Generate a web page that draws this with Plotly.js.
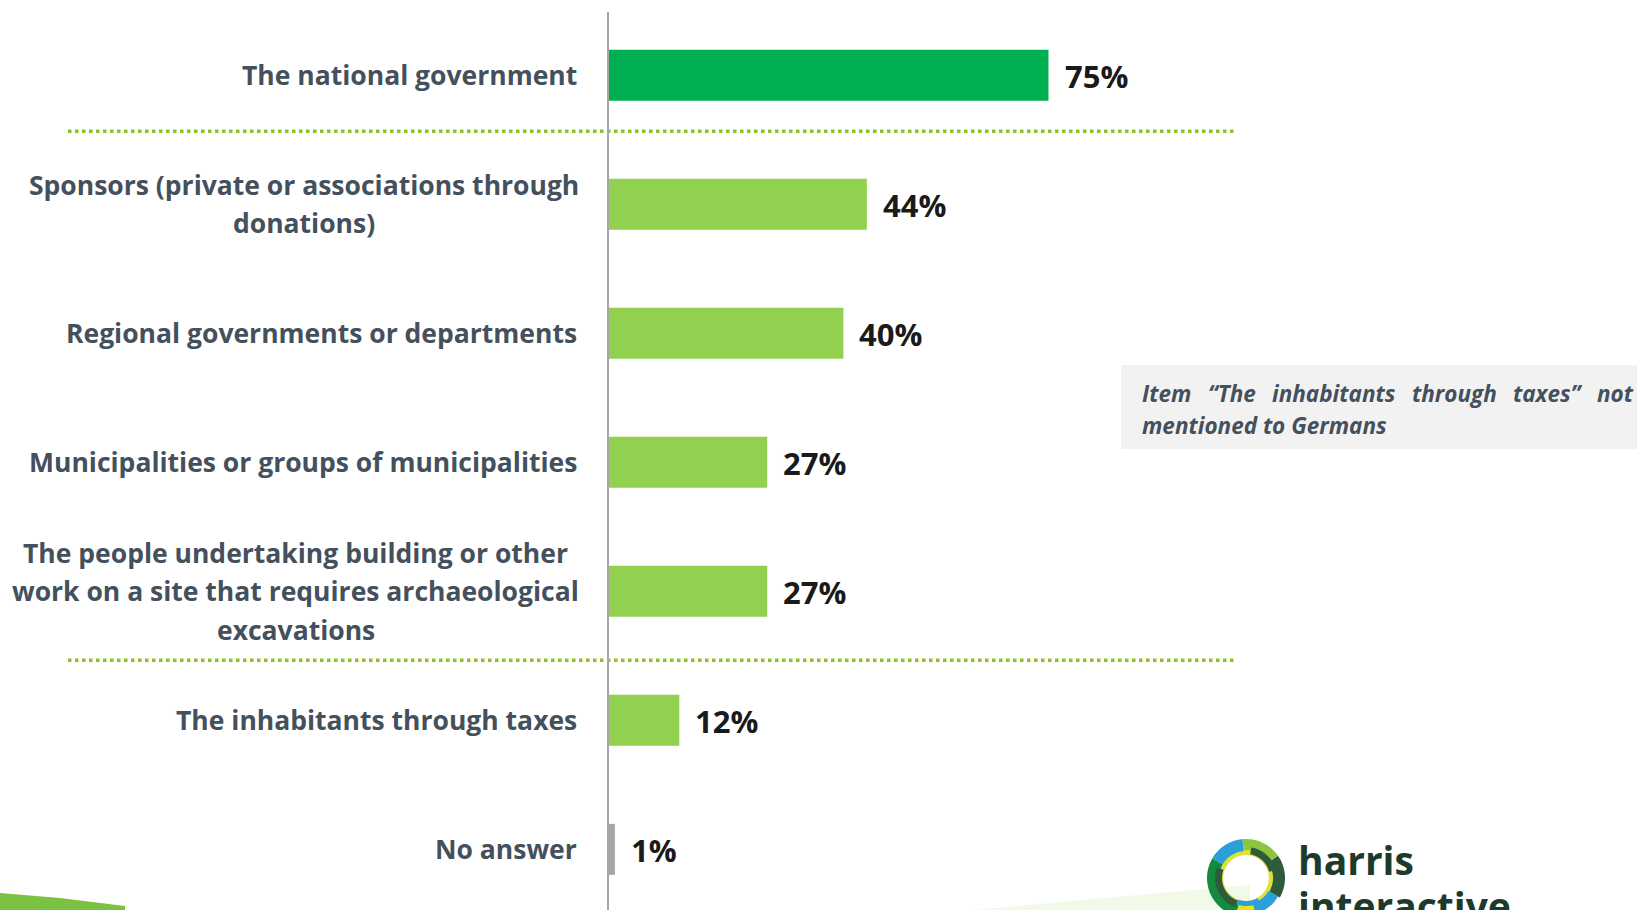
<!DOCTYPE html>
<html>
<head>
<meta charset="utf-8">
<script src="https://cdn.plot.ly/plotly-3.0.1.min.js"></script>
<style>
  html, body { margin: 0; padding: 0; background: #ffffff; }
  #chart { width: 1637px; height: 910px; }
</style>
</head>
<body>
<div id="chart"></div>
<script>
// ---------------- data ----------------
const categories = [
  "The national government",
  "Sponsors (private or associations through<br>donations)",
  "Regional governments or departments",
  "Municipalities or groups of municipalities",
  "The people undertaking building or other<br>work on a site that requires archaeological<br>excavations",
  "The inhabitants through taxes",
  "No answer"
];
const values = [75, 44, 40, 27, 27, 12, 1];
const valueLabels = ["75%", "44%", "40%", "27%", "27%", "12%", "1%"];
const separatorsAfter = [0, 4];   // dotted separator lines after these items
const noteLine1Words = ["Item", "\u201CThe", "inhabitants", "through", "taxes\u201D", "not"];
const noteLine2 = "mentioned to Germans";
const logoWords = ["harris", "interactive"];

// ---------------- layout helpers ----------------
const W = 1637, H = 910;
const ML = 609, MR = 442, MT = 12, MB = 0;
const PW = W - ML - MR, PH = H - MT - MB;
const px2x = p => (p - ML) / PW;
const py2y = p => (H - MB - p) / PH;

const LABEL_FONT = { family: "Open Sans", size: 26.5, color: "#44505c", weight: 700 };
const VALUE_FONT = { family: "Open Sans", size: 31, color: "#1a1a1a", weight: 700 };
const NOTE_FONT = { family: "Open Sans", size: 22.5, color: "#44505c", weight: 700, style: "italic" };

const cvs = document.createElement("canvas").getContext("2d");
function measure(text, f) {
  cvs.font = (f.style || "normal") + " " + (f.weight || 400) + " " + f.size + "px '" + f.family + "'";
  return cvs.measureText(text).width;
}

const barColors = values.map((v, i) => i === 0 ? "#00b050" : (i === values.length - 1 ? "#a6a6a6" : "#92d050"));

const trace = {
  type: "bar",
  orientation: "h",
  x: values,
  y: categories,
  marker: { color: barColors, line: { width: 0 } },
  hoverinfo: "skip",
  showlegend: false
};

const annotations = [];
const LABEL_RIGHT = 579;
const LINE_GAP = 38.5;
categories.forEach((cat, i) => {
  const lines = cat.split("<br>");
  if (lines.length === 1) {
    annotations.push({ xref: "paper", yref: "y", x: px2x(LABEL_RIGHT), y: cat, text: cat,
      xanchor: "right", yanchor: "middle", showarrow: false, font: LABEL_FONT });
  } else {
    const w = Math.max(...lines.map(l => measure(l, LABEL_FONT)));
    const cx = LABEL_RIGHT - w / 2;
    lines.forEach((l, j) => {
      annotations.push({ xref: "paper", yref: "y", x: px2x(cx), y: cat, text: l,
        xanchor: "center", yanchor: "middle", showarrow: false, font: LABEL_FONT,
        yshift: ((lines.length - 1) / 2 - j) * LINE_GAP });
    });
  }
  annotations.push({ xref: "x", yref: "y", x: values[i], y: cat, text: valueLabels[i],
    xanchor: "left", yanchor: "middle", xshift: 14, yshift: -1, showarrow: false, font: VALUE_FONT });
});

// note box text (justified first line)
const NOTE_L = 1140, NOTE_R = 1631;
const wordW = noteLine1Words.map(w => measure(w, NOTE_FONT));
const gap = (NOTE_R - NOTE_L - wordW.reduce((a, b) => a + b, 0)) / (noteLine1Words.length - 1);
let cur = NOTE_L;
noteLine1Words.forEach((w, k) => {
  annotations.push({ xref: "paper", yref: "paper", x: px2x(cur), y: py2y(393), text: w,
    xanchor: "left", yanchor: "middle", showarrow: false, font: NOTE_FONT });
  cur += wordW[k] + gap;
});
annotations.push({ xref: "paper", yref: "paper", x: px2x(NOTE_L), y: py2y(425), text: noteLine2,
  xanchor: "left", yanchor: "middle", showarrow: false, font: NOTE_FONT });

// logo text
const LOGO_FONT = { family: "Open Sans", size: 39, color: "#1d3b2c", weight: 700 };
annotations.push({ xref: "paper", yref: "paper", x: px2x(1296), y: py2y(859), text: logoWords[0],
  xanchor: "left", yanchor: "middle", showarrow: false, font: LOGO_FONT });
annotations.push({ xref: "paper", yref: "paper", x: px2x(1296), y: py2y(905), text: logoWords[1],
  xanchor: "left", yanchor: "middle", showarrow: false, font: LOGO_FONT });

// ---------------- shapes ----------------
const shapes = [];
// separators
separatorsAfter.forEach((idx, k) => {
  const yv = k === 0 ? idx + 0.435 : idx + 0.535;
  shapes.push({ type: "line", xref: "paper", yref: "y", x0: px2x(68), x1: px2x(1237), y0: yv, y1: yv,
    line: { color: "#8dc21f", width: 3.5, dash: "dot" }, layer: "below" });
});
// note box
shapes.push({ type: "rect", xref: "paper", yref: "paper", x0: px2x(1121), x1: px2x(1645), y0: py2y(365), y1: py2y(449),
  fillcolor: "#f2f2f2", line: { width: 0 }, layer: "below" });

// logo ring built from arcs
function arcPath(cx, cy, r0, r1, a0, a1) {
  const pts = [];
  const n = 24;
  for (let k = 0; k <= n; k++) {
    const a = (a0 + (a1 - a0) * k / n) * Math.PI / 180;
    pts.push([cx + r1 * Math.cos(a), cy - r1 * Math.sin(a)]);
  }
  for (let k = n; k >= 0; k--) {
    const a = (a0 + (a1 - a0) * k / n) * Math.PI / 180;
    pts.push([cx + r0 * Math.cos(a), cy - r0 * Math.sin(a)]);
  }
  return "M" + pts.map(p => px2x(p[0]).toFixed(5) + "," + py2y(p[1]).toFixed(5)).join("L") + "Z";
}
const LCX = 1246, LCY = 878;
const ringParts = [
  [23, 30, 0, 360, "#dfe03a"],
  [27, 39, 95, 150, "#2b9fd9"],
  [27, 39, 150, 255, "#138a3e"],
  [27, 36, 255, 300, "#e8e31a"],
  [26, 37, 285, 330, "#2b9fd9"],
  [27, 39, 330, 395, "#2e5b3b"],
  [28, 39, 35, 95, "#8cc63f"],
  [24, 31, 160, 250, "#2e5b3b"],
  [24, 31, 15, 80, "#2e5b3b"],
  [23, 28, 250, 300, "#2b9fd9"]
];
ringParts.forEach(p => shapes.push({ type: "path", xref: "paper", yref: "paper",
  path: arcPath(LCX, LCY, p[0], p[1], p[2], p[3]), fillcolor: p[4], line: { width: 0 }, layer: "above" }));

// bottom-left swoosh
shapes.push({ type: "path", xref: "paper", yref: "paper",
  path: "M" + px2x(0) + "," + py2y(893) + " L" + px2x(60) + "," + py2y(898) + " L" + px2x(125) + "," + py2y(906) +
        " L" + px2x(125) + "," + py2y(912) + " L" + px2x(0) + "," + py2y(912) + " Z",
  fillcolor: "#7cc242", line: { width: 0 }, layer: "below" });
// faint bottom band
shapes.push({ type: "path", xref: "paper", yref: "paper",
  path: "M" + px2x(950) + "," + py2y(912) + " L" + px2x(1250) + "," + py2y(885) + " L" + px2x(1250) + "," + py2y(912) + " Z",
  fillcolor: "#eef7e4", opacity: 0.8, line: { width: 0 }, layer: "below" });

const layout = {
  width: W, height: H,
  margin: { l: ML, r: MR, t: MT, b: MB, pad: 0 },
  paper_bgcolor: "#ffffff", plot_bgcolor: "rgba(0,0,0,0)",
  bargap: 0.605,
  xaxis: { range: [0, 100], showgrid: false, zeroline: false, showline: false, showticklabels: false, ticks: "", fixedrange: true },
  yaxis: { type: "category", categoryorder: "array", categoryarray: categories,
    range: [6.47, -0.49], showgrid: false, zeroline: false, showticklabels: false, ticks: "",
    showline: true, linecolor: "#a6a6a6", linewidth: 2, fixedrange: true },
  annotations: annotations,
  shapes: shapes,
  showlegend: false
};

Plotly.newPlot("chart", [trace], layout, { displayModeBar: false, staticPlot: true });
</script>
</body>
</html>
